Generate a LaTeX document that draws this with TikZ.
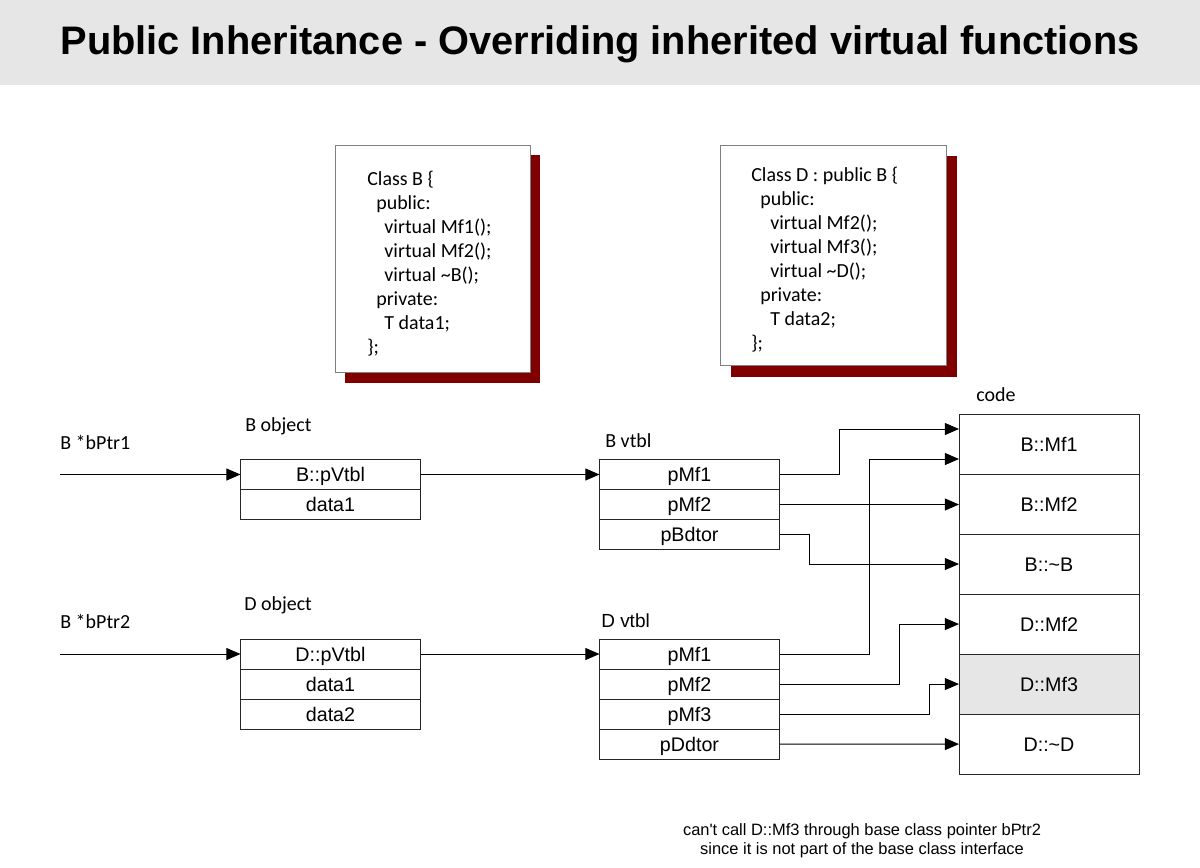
\documentclass[tikz,border=0pt]{standalone}
\usepackage{fontspec}
\setmainfont{Liberation Sans}
\newfontfamily\calfont{Carlito}
\usepackage{tikz}
\usetikzlibrary{arrows.meta, calc, positioning}

\definecolor{shadowred}{RGB}{128,0,0}
\definecolor{bandgray}{RGB}{230,230,230}

\tikzset{
    cell/.style={draw=black!85, line width=0.7pt, fill=white, minimum width=4.5cm,
        minimum height=0.75cm, inner sep=0pt, outer sep=0pt,
        text height=10pt, text depth=0pt, font=\fontsize{14}{16.8}\selectfont},
    codecell/.style={cell, minimum height=1.5cm},
    ptr/.style={-{Triangle[length=10pt,width=8.5pt]}, line width=0.7pt},
    lbl/.style={anchor=base west, inner sep=0pt, font=\calfont\fontsize{14.2}{17.07}\selectfont},
    classtext/.style={anchor=north west, align=left, inner sep=0pt,
        font=\calfont\fontsize{14.2}{17.07}\selectfont}
}

\begin{document}
\begin{tikzpicture}[x=0.025cm, y=-0.025cm, >=stealth]

    % =================================================================
    % 1. FRAME AND TITLE
    % =================================================================
    \useasboundingbox (0,0) rectangle (1200,867);
    \fill[white] (0,0) rectangle (1200,867);
    \fill[bandgray] (0,0) rectangle (1200,85);
    \node[anchor=base, inner sep=0pt, font=\bfseries\fontsize{28.3}{34}\selectfont] (title)
        at (600,55) {Public Inheritance - Overriding inherited virtual functions};

    % =================================================================
    % 2. CLASS DECLARATIONS (WITH DARK RED SHADOW)
    % =================================================================
    % class B
    \fill[shadowred] (345,155) rectangle (540,383);
    \draw[gray, line width=0.7pt, fill=white] (335,145) rectangle (530,372);
    \node[classtext] (classB) at (367,170.5) {Class B \{\\
        \hspace*{6.4pt}public:\\
        \hspace*{12.2pt}virtual Mf1();\\
        \hspace*{12.2pt}virtual Mf2();\\
        \hspace*{12.2pt}virtual \textasciitilde B();\\
        \hspace*{6.4pt}private:\\
        \hspace*{12.2pt}T data1;\\
        \};};

    % class D
    \fill[shadowred] (731,156) rectangle (957,377);
    \draw[gray, line width=0.7pt, fill=white] (720,145) rectangle (946,365);
    \node[classtext] (classD) at (751,166.5) {Class D : public B \{\\
        \hspace*{6.4pt}public:\\
        \hspace*{13.5pt}virtual Mf2();\\
        \hspace*{13.5pt}virtual Mf3();\\
        \hspace*{13.5pt}virtual \textasciitilde D();\\
        \hspace*{6.4pt}private:\\
        \hspace*{13.5pt}T data2;\\
        \};};

    % =================================================================
    % 3. LABELS
    % =================================================================
    \node[lbl] (bptr1lbl) at (60,449) {B *bPtr1};
    \node[lbl] (bobjlbl) at (245,431) {B object};
    \node[lbl] (bvtbllbl) at (605,447) {B vtbl};
    \node[lbl] (codelbl) at (976,401) {code};
    \node[lbl] (bptr2lbl) at (60,628) {B *bPtr2};
    \node[lbl] (dobjlbl) at (244,610) {D object};
    \node[lbl, font=\fontsize{13.5}{16}\selectfont] (dvtbllbl) at (601,627) {D vtbl};

    % =================================================================
    % 4. OBJECTS, VTBLS AND CODE
    % =================================================================
    % B object
    \node[cell] (bo1) at (330.5,474.5) {B::pVtbl};
    \node[cell, below=0pt of bo1] (bo2) {data1};

    % B vtbl
    \node[cell] (bv1) at (689.5,474.5) {pMf1};
    \node[cell, below=0pt of bv1] (bv2) {pMf2};
    \node[cell, below=0pt of bv2] (bv3) {pBdtor};

    % D object
    \node[cell] (do1) at (330.5,654) {D::pVtbl};
    \node[cell, below=0pt of do1] (do2) {data1};
    \node[cell, below=0pt of do2] (do3) {data2};

    % D vtbl
    \node[cell] (dv1) at (689.5,654) {pMf1};
    \node[cell, below=0pt of dv1] (dv2) {pMf2};
    \node[cell, below=0pt of dv2] (dv3) {pMf3};
    \node[cell, below=0pt of dv3] (dv4) {pDdtor};

    % code
    \node[codecell] (c1) at (1049,444) {B::Mf1};
    \node[codecell, below=0pt of c1] (c2) {B::Mf2};
    \node[codecell, below=0pt of c2] (c3) {B::\textasciitilde B};
    \node[codecell, below=0pt of c3] (c4) {D::Mf2};
    \node[codecell, below=0pt of c4, fill=bandgray] (c5) {D::Mf3};
    \node[codecell, below=0pt of c5] (c6) {D::\textasciitilde D};

    % =================================================================
    % 5. POINTER ARROWS
    % =================================================================
    \coordinate (p1) at (60,474.5);
    \coordinate (p2) at (60,654);
    \coordinate (c1top) at ($(c1.west)+(0,-15)$);
    \coordinate (c1bot) at ($(c1.west)+(0,15)$);

    \draw[ptr] (p1) -- (bo1.west);
    \draw[ptr] (bo1.east) -- (bv1.west);
    \draw[ptr] (p2) -- (do1.west);
    \draw[ptr] (do1.east) -- (dv1.west);

    % from B vtbl
    \draw[ptr] (bv1.east) -- ++(60,0) |- (c1top);
    \draw[ptr] (bv2.east) -- (bv2.east -| c2.west);
    \draw[ptr] (bv3.east) -- ++(30,0) |- (c3.west);

    % from D vtbl
    \draw[ptr] (dv1.east) -- ++(90,0) |- (c1bot);
    \draw[ptr] (dv2.east) -- ++(120,0) |- (c4.west);
    \draw[ptr] (dv3.east) -- ++(150,0) |- (c5.west);
    \draw[ptr] (dv4.east) -- (c6.west);

    % =================================================================
    % 6. NOTE
    % =================================================================
    \node[anchor=north, align=center, inner sep=0pt, font=\fontsize{11.7}{13.9}\selectfont] (note)
        at (862,823) {can\textquotesingle t call D::Mf3 through base class pointer bPtr2\\
        since it is not part of the base class interface};

\end{tikzpicture}
\end{document}
